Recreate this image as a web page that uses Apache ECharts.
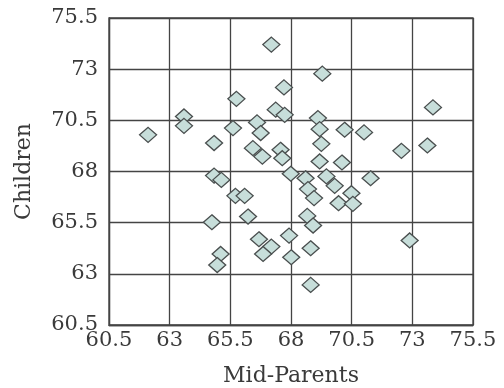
<!DOCTYPE html>
<html>
<head>
<meta charset="utf-8">
<script src="https://cdn.jsdelivr.net/npm/echarts@6/dist/echarts.min.js"></script>
<style>html,body{margin:0;padding:0;background:#fff}#c{width:504px;height:388px}</style>
</head>
<body>
<div id="c"></div>
<script>
const xTitle = 'Mid-Parents';
const yTitle = 'Children';
const tickLabels = ['60.5','63','65.5','68','70.5','73','75.5'];
const midParents = [67.19,69.29,67.71,65.75,73.85,67.37,67.74,63.59,63.59,69.11,66.60,62.11,65.61,69.18,70.21,71.01,66.75,64.83,69.25,73.62,72.55,66.43,67.57,66.82,67.64,69.18,70.10,64.83,65.13,67.99,68.60,69.46,71.28,69.80,68.70,70.49,65.71,66.09,68.95,69.96,70.55,66.23,68.67,64.74,68.91,72.89,67.92,66.68,67.19,66.85,68.81,65.10,64.96,68.01,68.81];
const children = [74.2,72.78,72.11,71.55,71.13,71.02,70.77,70.69,70.23,70.61,70.40,69.79,70.12,70.07,70.04,69.91,69.88,69.39,69.35,69.27,69.01,69.14,69.06,68.73,68.65,68.49,68.44,67.80,67.59,67.89,67.67,67.76,67.67,67.30,67.14,66.94,66.81,66.81,66.70,66.45,66.42,65.80,65.83,65.52,65.36,64.63,64.87,64.69,64.33,63.97,64.25,63.97,63.43,63.81,62.46];

const pts = midParents.map((x,i)=>[x, children[i]]);
const font = 'DejaVu Serif';
const axisCommon = {
  type:'value', min:60.5, max:75.5, interval:2.5,
  axisLine:{show:true, lineStyle:{color:'#444', width:1.3}},
  axisTick:{show:false},
  splitLine:{show:true, lineStyle:{color:'#444', width:1.3}},
  nameLocation:'middle',
  nameTextStyle:{fontFamily:font, fontSize:22, color:'#3a3a3a'},
  axisLabel:{fontFamily:font, fontSize:21, color:'#3a3a3a',
    formatter:v=>{const i=Math.round((v-60.5)/2.5);return tickLabels[i]||'';}}
};
const chart = echarts.init(document.getElementById('c'));
chart.setOption({
  animation:false,
  grid:{left:109, right:31, top:18, bottom:63, outerBoundsMode:'none', containLabel:false, show:true, borderColor:'#444', borderWidth:1.3},
  xAxis:Object.assign({}, axisCommon, {name:xTitle, nameGap:40, axisLabel:Object.assign({}, axisCommon.axisLabel, {margin:5})}),
  yAxis:Object.assign({}, axisCommon, {name:yTitle, nameGap:74, axisLabel:Object.assign({}, axisCommon.axisLabel, {margin:11})}),
  series:[{
    type:'scatter', data:pts, symbol:'diamond', symbolSize:[17,15],
    itemStyle:{color:'#c7deda', borderColor:'#4a4f4f', borderWidth:1.3, opacity:1}
  }]
});
</script>
</body>
</html>
